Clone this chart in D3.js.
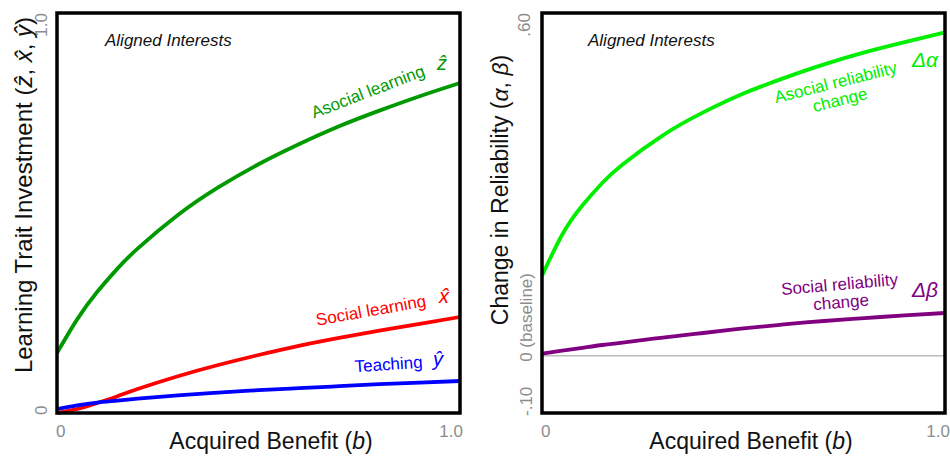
<!DOCTYPE html>
<html>
<head>
<meta charset="utf-8">
<script src="https://cdn.jsdelivr.net/npm/d3@7"></script>
<style>
  html, body { margin: 0; padding: 0; background: #fff; }
  svg { display: block; font-family: "Liberation Sans", Arial, Helvetica, sans-serif; }
</style>
</head>
<body>
<svg id="chart" width="950" height="456"></svg>
<script>
// ---------- data ----------
const benefit = [0, 0.05, 0.1, 0.15, 0.2, 0.3, 0.4, 0.5, 0.6, 0.7, 0.8, 0.9, 1.0];

// Left panel: learning trait investment
const asocialLearning = [0.150, 0.234, 0.303, 0.361, 0.411, 0.495, 0.564, 0.622, 0.672, 0.717, 0.756, 0.792, 0.825];
const socialLearning  = [0.000, 0.010, 0.025, 0.042, 0.060, 0.092, 0.120, 0.145, 0.168, 0.188, 0.206, 0.223, 0.240];
const teaching        = [0.010, 0.019, 0.026, 0.031, 0.036, 0.044, 0.051, 0.057, 0.062, 0.067, 0.072, 0.076, 0.080];

// Right panel: change in reliability
const asocialReliability = [0.140, 0.212, 0.263, 0.303, 0.335, 0.386, 0.426, 0.459, 0.486, 0.510, 0.531, 0.549, 0.566];
const socialReliability  = [0.004, 0.009, 0.014, 0.019, 0.023, 0.032, 0.040, 0.048, 0.055, 0.061, 0.066, 0.071, 0.075];

const xTickLabels = ["0", "1.0"];
const leftYTickLabels = ["0", "1.0"];
const rightYTickLabels = ["-.10", "0 (baseline)", ".60"];
const rightYTicks = [-0.10, 0, 0.60];

// ---------- layout ----------
const svg = d3.select("#chart");
const panels = {
  left:  { x0: 57,  x1: 460, y0: 13, y1: 413 },
  right: { x0: 542, x1: 945, y0: 13, y1: 413 }
};
const tickColor = "#8c8c8c";
const tickSize = 17;

const xL = d3.scaleLinear().domain([0, 1]).range([panels.left.x0, panels.left.x1]);
const yL = d3.scaleLinear().domain([0, 1]).range([panels.left.y1, panels.left.y0]);
const xR = d3.scaleLinear().domain([0, 1]).range([panels.right.x0, panels.right.x1]);
const yR = d3.scaleLinear().domain([-0.10, 0.60]).range([panels.right.y1, panels.right.y0]);

function drawLine(x, y, values, color) {
  const line = d3.line()
    .x((d, i) => x(benefit[i]))
    .y(d => y(d))
    .curve(d3.curveNatural);
  svg.append("path")
    .datum(values)
    .attr("d", line)
    .attr("fill", "none")
    .attr("stroke", color)
    .attr("stroke-width", 3.8)
    .attr("stroke-linecap", "butt");
}

function label(x, y, angle, color, size, parts, anchor = "middle", style = "normal") {
  const t = svg.append("text")
    .attr("transform", `translate(${x},${y}) rotate(${angle})`)
    .attr("text-anchor", anchor)
    .attr("fill", color)
    .attr("font-size", size)
    .attr("font-style", style);
  parts.forEach(p => {
    const ts = t.append("tspan").text(p.t);
    if (p.i) ts.attr("font-style", "italic");
    if (p.x !== undefined) ts.attr("x", p.x);
    if (p.dy !== undefined) ts.attr("dy", p.dy);
  });
  return t;
}

// ---------- left panel ----------
const colAsocial = "#009a00", colSocial = "#ff0000", colTeach = "#0000ff";
drawLine(xL, yL, asocialLearning, colAsocial);
drawLine(xL, yL, socialLearning, colSocial);
drawLine(xL, yL, teaching, colTeach);

svg.append("rect")
  .attr("x", panels.left.x0).attr("y", panels.left.y0)
  .attr("width", panels.left.x1 - panels.left.x0)
  .attr("height", panels.left.y1 - panels.left.y0)
  .attr("fill", "none").attr("stroke", "#000").attr("stroke-width", 3.5);

label(105, 46, 0, "#111", 17, [{t: "Aligned Interests"}], "start", "italic");

label(370, 97, -21, colAsocial, 17, [{t: "Asocial learning"}]);
label(442, 70, 0, colAsocial, 20, [{t: "\u1E91", i: true}]);
label(372, 316, -10, colSocial, 17, [{t: "Social learning"}]);
label(444, 303, 0, colSocial, 20, [{t: "x\u0302", i: true}]);
label(389, 370, -4, colTeach, 17, [{t: "Teaching"}]);
label(438, 366, 0, colTeach, 20, [{t: "\u0177", i: true}]);

// axis tick labels
svg.append("text").attr("x", xL(0) - 1).attr("y", 437).attr("text-anchor", "start")
  .attr("fill", tickColor).attr("font-size", tickSize).text(xTickLabels[0]);
svg.append("text").attr("x", xL(1) + 3).attr("y", 437).attr("text-anchor", "end")
  .attr("fill", tickColor).attr("font-size", tickSize).text(xTickLabels[1]);
label(47, yL(0) + 2, -90, tickColor, tickSize, [{t: leftYTickLabels[0]}], "start");
label(47, yL(1), -90, tickColor, tickSize, [{t: leftYTickLabels[1]}], "end");

// axis titles
label(271, 449, 0, "#111", 23, [{t: "Acquired Benefit ("}, {t: "b", i: true}, {t: ")"}]);
label(32, 195, -90, "#111", 24, [
  {t: "Learning Trait Investment ("}, {t: "\u1E91", i: true}, {t: ", "},
  {t: "x\u0302", i: true}, {t: ", "}, {t: "\u0177", i: true}, {t: ")"}
]);

// ---------- right panel ----------
const colAlpha = "#00ee00", colBeta = "#800080";
svg.append("line")
  .attr("x1", panels.right.x0).attr("x2", panels.right.x1)
  .attr("y1", yR(0)).attr("y2", yR(0))
  .attr("stroke", "#999").attr("stroke-width", 1);
drawLine(xR, yR, asocialReliability, colAlpha);
drawLine(xR, yR, socialReliability, colBeta);

svg.append("rect")
  .attr("x", panels.right.x0).attr("y", panels.right.y0)
  .attr("width", panels.right.x1 - panels.right.x0)
  .attr("height", panels.right.y1 - panels.right.y0)
  .attr("fill", "none").attr("stroke", "#000").attr("stroke-width", 3.5);

label(588, 46, 0, "#111", 17, [{t: "Aligned Interests"}], "start", "italic");

label(837, 88, -14, colAlpha, 17, [{t: "Asocial reliability", x: 0}, {t: "change", x: 0, dy: 18}]);
label(912, 67, 0, colAlpha, 21, [{t: "\u0394\u03B1", i: true}], "start");
label(840, 290, -5, colBeta, 17, [{t: "Social reliability", x: 0}, {t: "change", x: 0, dy: 18}]);
label(912, 297, 0, colBeta, 21, [{t: "\u0394\u03B2", i: true}], "start");

svg.append("text").attr("x", xR(0) - 1).attr("y", 437).attr("text-anchor", "start")
  .attr("fill", tickColor).attr("font-size", tickSize).text(xTickLabels[0]);
svg.append("text").attr("x", xR(1) + 5).attr("y", 437).attr("text-anchor", "end")
  .attr("fill", tickColor).attr("font-size", tickSize).text(xTickLabels[1]);
label(532, yR(rightYTicks[0]) + 3, -90, tickColor, tickSize, [{t: rightYTickLabels[0]}], "start");
label(532, yR(rightYTicks[1]) + 6, -90, tickColor, tickSize, [{t: rightYTickLabels[1]}], "start");
label(530, yR(rightYTicks[2]), -90, tickColor, tickSize, [{t: rightYTickLabels[2]}], "end");

label(751, 449, 0, "#111", 23, [{t: "Acquired Benefit ("}, {t: "b", i: true}, {t: ")"}]);
label(508, 190, -90, "#111", 23, [
  {t: "Change in Reliability ("}, {t: "\u03B1", i: true}, {t: ", "},
  {t: "\u03B2", i: true}, {t: ")"}
]);
</script>
</body>
</html>
